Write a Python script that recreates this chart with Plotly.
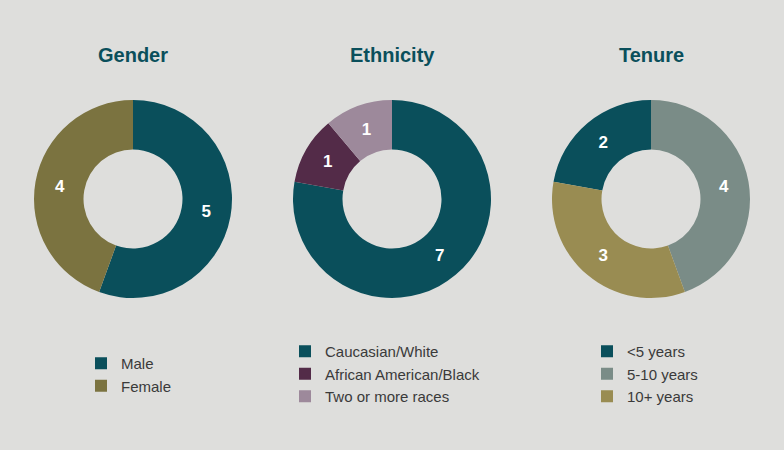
import plotly.graph_objects as go

gender_labels = ["Male", "Female"]
gender_values = [5, 4]
gender_colors = ["#0A4F5B", "#7B7340"]

eth_labels = ["Caucasian/White", "African American/Black", "Two or more races"]
eth_values = [7, 1, 1]
eth_colors = ["#0A4F5B", "#532B48", "#9D899B"]

ten_labels = ["<5 years", "5-10 years", "10+ years"]
ten_values = [2, 4, 3]
ten_colors = ["#0A4F5B", "#7A8C87", "#998C52"]

titles = ["Gender", "Ethnicity", "Tenure"]

W, H = 784, 450
R = 99
cy = 199
centers = [133, 392, 651]

def dom(cx):
    return dict(x=[(cx - R) / W, (cx + R) / W], y=[(H - cy - R) / H, (H - cy + R) / H])

FONT = "Liberation Sans, Arial, Helvetica, sans-serif"

fig = go.Figure()
specs = [
    (gender_labels, gender_values, gender_colors, "legend", 0),
    (eth_labels, eth_values, eth_colors, "legend2", 0),
    (ten_labels, ten_values, ten_colors, "legend3", -80),
]
for i, (lab, val, col, lg, rot) in enumerate(specs):
    fig.add_trace(go.Pie(
        labels=lab, values=val, hole=0.5, sort=False, direction="clockwise",
        rotation=rot, marker=dict(colors=col, line=dict(width=0)),
        textinfo="value", textposition="inside", insidetextorientation="horizontal",
        textfont=dict(color="white", size=17, family=FONT, weight="bold"),
        domain=dom(centers[i]), legend=lg, hoverinfo="label+value",
    ))
    fig.add_annotation(text="<b>%s</b>" % titles[i], x=centers[i] / W, y=(H - 55) / H,
                       xref="paper", yref="paper", showarrow=False,
                       xanchor="center", yanchor="middle",
                       font=dict(size=20, color="#0A4F5B", family=FONT))

def leg(x, y):
    return dict(x=x / W, y=(H - y) / H, xanchor="left", yanchor="top",
                bgcolor="rgba(0,0,0,0)", font=dict(size=15, color="#3A3A3A", family=FONT),
                itemclick=False, itemdoubleclick=False)

fig.update_layout(
    width=W, height=H, margin=dict(l=0, r=0, t=0, b=0),
    paper_bgcolor="#DEDEDC", plot_bgcolor="#DEDEDC",
    legend=leg(81, 347), legend2=leg(285, 335), legend3=leg(587, 335),
    showlegend=True,
)
fig.write_html("out.html", config={"displayModeBar": False},
               post_script="document.body.style.margin='0';document.body.style.background='#DEDEDC';")
